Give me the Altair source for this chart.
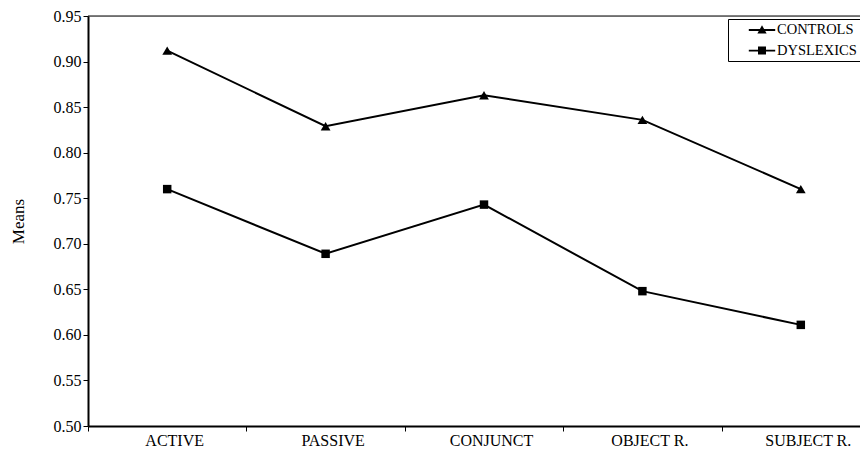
import altair as alt
import pandas as pd

categories = ["ACTIVE", "PASSIVE", "CONJUNCT", "OBJECT R.", "SUBJECT R."]
series_names = ["CONTROLS", "DYSLEXICS"]
controls = [0.912, 0.829, 0.863, 0.836, 0.760]
dyslexics = [0.760, 0.689, 0.743, 0.648, 0.611]
y_ticks = [0.50, 0.55, 0.60, 0.65, 0.70, 0.75, 0.80, 0.85, 0.90, 0.95]

rows = []
for name, vals in zip(series_names, [controls, dyslexics]):
    for c, v in zip(categories, vals):
        rows.append({"category": c, "series": name, "value": v})
df = pd.DataFrame(rows)

FONT = "Liberation Serif"
PLOT_W = 772
BAND_RANGE = 792
PLOT_H = 410

x_scale = alt.Scale(type="band", range=[0, BAND_RANGE], paddingInner=0, paddingOuter=0)
x_axis = alt.Axis(
    title=None, tickBand="extent", labelAngle=0, labelFont=FONT, labelFontSize=16,
    labelColor="black", domainColor="black", domainWidth=2, tickColor="black",
    tickWidth=1, tickSize=5, labelPadding=1, grid=False, labelOffset=7,
)
x_enc = alt.X("category:N", sort=categories, scale=x_scale, axis=x_axis)

y_scale = alt.Scale(domain=[0.5, 0.95], nice=False, zero=False)
y_enc = alt.Y(
    "value:Q",
    scale=y_scale,
    axis=alt.Axis(
        values=y_ticks, format=".2f", title="Means", grid=False, tickSize=5,
        tickColor="black", domainColor="black", domainWidth=2, labelFont=FONT,
        labelFontSize=16, labelColor="black", titleFont=FONT, titleFontSize=17,
        titleFontWeight="normal", titleColor="black", titlePadding=26, labelPadding=2,
    ),
)

base = alt.Chart(df)

lines = base.mark_line(color="black", strokeWidth=2).encode(
    x=x_enc, y=y_enc, detail="series:N"
)
points = base.mark_point(filled=True, color="black", opacity=1).encode(
    x=x_enc, y=y_enc,
    shape=alt.Shape("series:N", scale=alt.Scale(domain=series_names, range=["triangle-up", "square"]), legend=None),
    size=alt.Size("series:N", scale=alt.Scale(domain=series_names, range=[95, 72]), legend=None),
)
legend_layer = base.mark_point(filled=True, color="black", opacity=0).encode(
    x=x_enc, y=y_enc,
    shape=alt.Shape(
        "series:N",
        scale=alt.Scale(
            domain=series_names,
            range=[
                "M-1.65,-0.12L1.65,-0.12L1.65,0.12L-1.65,0.12Z M0,-0.6L0.58,0.45L-0.58,0.45Z",
                "M-1.65,-0.12L1.65,-0.12L1.65,0.12L-1.65,0.12Z M-0.5,-0.5L0.5,-0.5L0.5,0.5L-0.5,0.5Z",
            ],
        ),
        legend=alt.Legend(
            title=None, orient="none", legendX=640, legendY=3, padding=3,
            strokeColor="black", fillColor="white", labelFont=FONT, labelFontSize=14.5,
            labelColor="black", symbolSize=256, symbolOpacity=1, symbolFillColor="black",
            symbolStrokeWidth=0, rowPadding=5.6, symbolOffset=23, labelOffset=7,
            cornerRadius=0,
        ),
    ),
)
top_rule = alt.Chart(pd.DataFrame({"top": [0.95]})).mark_rule(color="black", strokeWidth=1).encode(
    y=alt.Y("top:Q", scale=y_scale)
)

chart = alt.layer(top_rule, lines, points, legend_layer).resolve_scale(
    shape="independent", size="independent"
).properties(
    width=PLOT_W, height=PLOT_H,
    autosize=alt.AutoSizeParams(type="none"),
    padding={"left": 80, "top": 8, "right": 0, "bottom": 22},
).configure_view(stroke=None).configure(background="white")

chart.save("out.html", embed_options={"renderer": "svg", "actions": False})
